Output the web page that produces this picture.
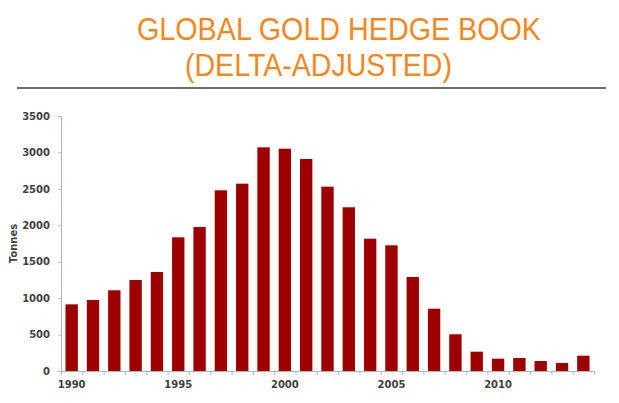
<!DOCTYPE html>
<html lang="en">
    <head>
        <meta charset="utf-8" />
        <title>Global Gold Hedge Book</title>
        <script src="https://cdn.jsdelivr.net/npm/d3@7"></script>
        <style>
            body {
                margin: 0;
                background: #fff;
            }
            .axis text {
                font-family: "DejaVu Sans", Verdana, sans-serif;
                font-weight: bold;
                font-size: 10px;
                fill: #404040;
            }
            .axis path,
            .axis line {
                stroke: #b4b4b4;
            }
        </style>
    </head>
    <body>
        <div id="chart"></div>
        <script>
            // tonnes
            var years = d3.range(1990, 2015);
            var tonnes = [
                915, 975, 1108, 1249, 1359, 1835, 1976, 2480, 2571, 3070,
                3051, 2910, 2530, 2247, 1816, 1725, 1290, 855, 504, 265,
                169, 178, 137, 110, 210,
            ];
            var yTicks = [0, 500, 1000, 1500, 2000, 2500, 3000, 3500];
            var xLabels = [1990, 1995, 2000, 2005, 2010];

            var width = 619,
                height = 403;
            var plotLeft = 61,
                plotRight = 594,
                plotTop = 116,
                plotBottom = 371;

            var svg = d3
                .select("#chart")
                .append("svg")
                .attr("width", width)
                .attr("height", height);

            // title
            var title = svg
                .append("g")
                .attr("font-family", "'Liberation Sans', Arial, sans-serif")
                .attr("font-size", 31)
                .attr("fill", "#f5871f");
            title
                .append("text")
                .attr("x", 137)
                .attr("y", 40)
                .attr("textLength", 404)
                .attr("lengthAdjust", "spacingAndGlyphs")
                .text("GLOBAL GOLD HEDGE BOOK");
            title
                .append("text")
                .attr("x", 185)
                .attr("y", 76)
                .attr("textLength", 267)
                .attr("lengthAdjust", "spacingAndGlyphs")
                .text("(DELTA-ADJUSTED)");

            svg.append("line")
                .attr("x1", 17)
                .attr("x2", 606)
                .attr("y1", 88)
                .attr("y2", 88)
                .attr("stroke", "#6e6e6e")
                .attr("stroke-width", 2);

            var x = d3
                .scaleBand()
                .domain(years)
                .range([plotLeft, plotRight])
                .paddingInner(0.42)
                .paddingOuter(0.21);

            var y = d3
                .scaleLinear()
                .domain([0, 3500])
                .range([plotBottom, plotTop]);

            // boundary ticks between categories
            var xEdge = d3
                .scaleLinear()
                .domain([0, years.length])
                .range([plotLeft, plotRight]);

            svg.append("g")
                .attr("class", "axis")
                .attr("transform", "translate(0," + plotBottom + ")")
                .call(
                    d3
                        .axisBottom(xEdge)
                        .tickValues(d3.range(0, years.length + 1))
                        .tickSize(4)
                        .tickSizeOuter(0)
                        .tickFormat("")
                );

            svg.append("g")
                .attr("class", "axis")
                .attr("transform", "translate(0," + plotBottom + ")")
                .call(
                    d3
                        .axisBottom(x)
                        .tickValues(xLabels)
                        .tickSize(0)
                        .tickPadding(10)
                )
                .call((g) => g.select(".domain").remove());

            svg.append("g")
                .attr("class", "axis")
                .attr("transform", "translate(" + plotLeft + ",0)")
                .call(
                    d3
                        .axisLeft(y)
                        .tickValues(yTicks)
                        .tickSize(3)
                        .tickSizeOuter(0)
                        .tickPadding(8)
                        .tickFormat(d3.format("d"))
                );

            svg.append("text")
                .attr(
                    "transform",
                    "translate(17," + (plotTop + plotBottom) / 2 + ") rotate(-90)"
                )
                .attr("text-anchor", "middle")
                .attr("font-family", "'DejaVu Sans', Verdana, sans-serif")
                .attr("font-weight", "bold")
                .attr("font-size", 10)
                .attr("fill", "#404040")
                .text("Tonnes");

            svg.append("g")
                .selectAll("rect")
                .data(tonnes)
                .join("rect")
                .attr("x", (d, i) => x(years[i]))
                .attr("y", (d) => y(d))
                .attr("width", x.bandwidth())
                .attr("height", (d) => plotBottom - y(d))
                .attr("fill", "#9e0000");
        </script>
    </body>
</html>
